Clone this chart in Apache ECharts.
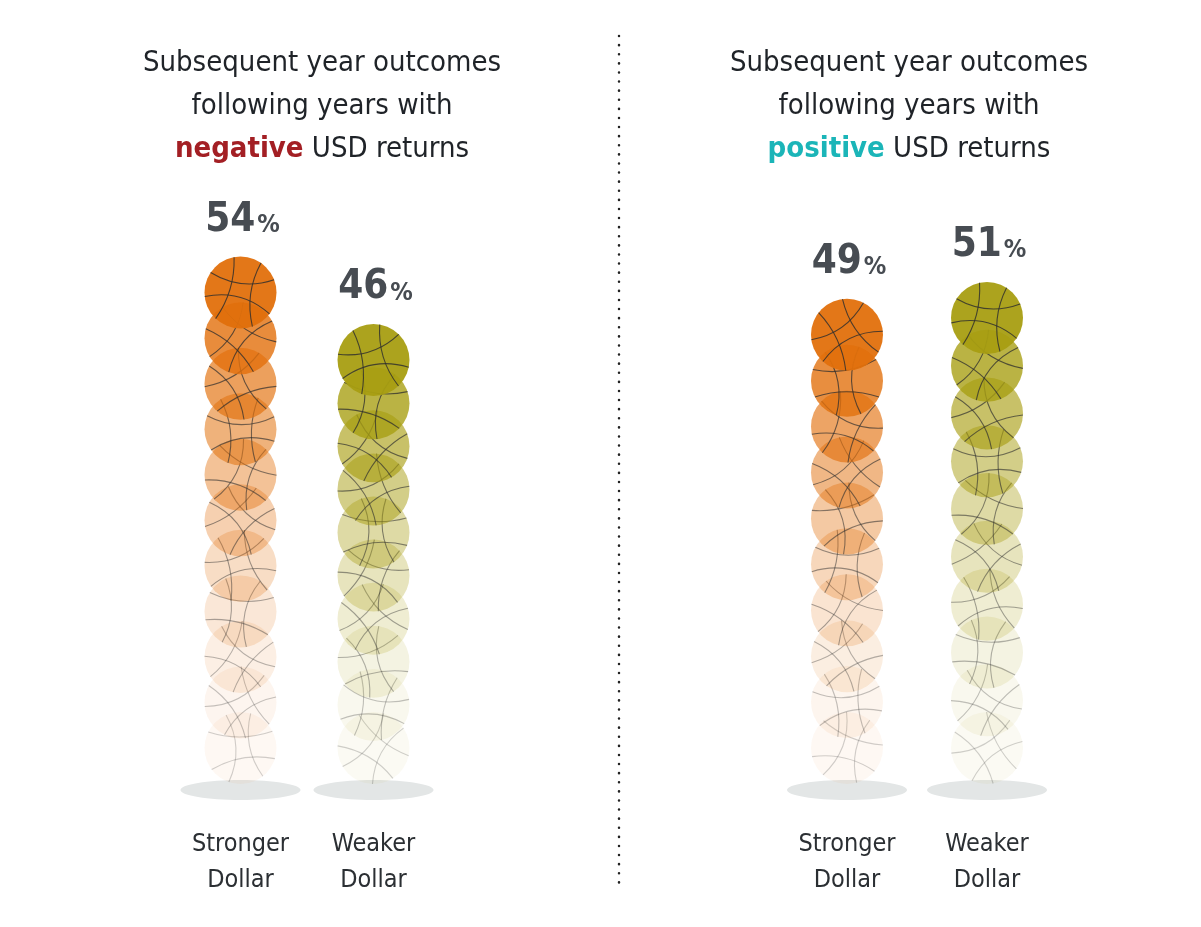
<!DOCTYPE html>
<html><head><meta charset="utf-8">
<script src="https://cdn.jsdelivr.net/npm/echarts@6/dist/echarts.min.js"></script>
<style>html,body{margin:0;background:#fff}#c{width:1201px;height:927px}</style>
</head><body><div id="c"></div>
<script>
const categories = ['Stronger\nDollar', 'Weaker\nDollar'];
const negativeValues = [54, 46];
const positiveValues = [49, 51];
const ballColors = ['#E2700C', '#A89E12'];
const FONT = '"Liberation Sans Narrow","DejaVu Sans Condensed","Noto Sans",sans-serif';

const chart = echarts.init(document.getElementById('c'));
const curves = [[0.3, 2.5, 0.25], [1.9, 4.3, -0.3], [3.6, 5.8, 0.35], [5.0, 0.9, 0.1]];

function renderItem(params, api) {
  const ci = api.value(0), v = api.value(1);
  const base = api.coord([ci, 0]), top = api.coord([ci, v]);
  const r = 36;
  const n = Math.round(v / 5.4) + 1;
  const step = (base[1] - top[1]) / (n - 1);
  const color = ballColors[ci];
  const children = [{
    type: 'ellipse', shape: {cx: base[0], cy: base[1] + 42, rx: 60, ry: 10},
    style: {fill: '#e3e6e6'}
  }];
  for (let i = 0; i < n; i++) {
    const cx = base[0], cy = base[1] - i * step;
    const t = i / (n - 1);
    const op = 0.05 + 0.9 * Math.pow(t, 1.7);
    children.push({type: 'circle', shape: {cx, cy, r}, style: {fill: color, opacity: op}});
    const rot = i * 1.13 + ci * 0.7 + params.seriesIndex * 0.4;
    curves.forEach(c => {
      const a1 = c[0] + rot, a2 = c[1] + rot;
      const x1 = cx + r * Math.cos(a1), y1 = cy + r * Math.sin(a1);
      const x2 = cx + r * Math.cos(a2), y2 = cy + r * Math.sin(a2);
      const mx = (x1 + x2) / 2 - cx, my = (y1 + y2) / 2 - cy;
      children.push({
        type: 'bezierCurve',
        shape: {x1, y1, x2, y2, cpx1: cx + mx * c[2], cpy1: cy + my * c[2]},
        style: {stroke: '#2e2e2e', lineWidth: 1.1, fill: null, opacity: 0.22 + 0.6 * t}
      });
    });
  }
  children.push({
    type: 'text',
    style: {
      text: '{a|' + v + '}{b|%}', x: top[0] + 2, y: top[1] - r - 16,
      align: 'center', verticalAlign: 'bottom',
      rich: {
        a: {fontSize: 40, fontWeight: 'bold', fill: '#474c52', fontFamily: FONT},
        b: {fontSize: 25, fontWeight: 'bold', fill: '#474c52', fontFamily: FONT, padding: [10, 0, 0, 2]}
      }
    }
  });
  return {type: 'group', children};
}

const xAx = (gi) => ({
  gridIndex: gi, type: 'category', data: categories,
  axisLine: {show: false}, axisTick: {show: false},
  axisLabel: {interval: 0, margin: 78, fontSize: 25, lineHeight: 36, color: '#2b2f33', fontFamily: FONT}
});
const yAx = (gi) => ({gridIndex: gi, type: 'value', min: 0, max: 60, show: false});

chart.setOption({
  animation: false,
  grid: [
    {left: 174, width: 266, top: 242, height: 506},
    {left: 777, width: 280, top: 242, height: 506}
  ],
  xAxis: [xAx(0), xAx(1)],
  yAxis: [yAx(0), yAx(1)],
  series: [
    {type: 'custom', xAxisIndex: 0, yAxisIndex: 0, renderItem, data: negativeValues.map((v, i) => [i, v])},
    {type: 'custom', xAxisIndex: 1, yAxisIndex: 1, renderItem, data: positiveValues.map((v, i) => [i, v])}
  ],
  graphic: [
    {type: 'text', x: 322, y: 42, style: {
      text: 'Subsequent year outcomes\nfollowing years with\n{w|negative} USD returns',
      align: 'center', fontSize: 29, lineHeight: 43, fill: '#1f2328', fontFamily: FONT,
      rich: {w: {fontSize: 29, fontWeight: 'bold', fill: '#a31f24', fontFamily: FONT}}}},
    {type: 'text', x: 909, y: 42, style: {
      text: 'Subsequent year outcomes\nfollowing years with\n{w|positive} USD returns',
      align: 'center', fontSize: 29, lineHeight: 43, fill: '#1f2328', fontFamily: FONT,
      rich: {w: {fontSize: 29, fontWeight: 'bold', fill: '#1bb5b8', fontFamily: FONT}}}},
    {type: 'line', shape: {x1: 619, y1: 36, x2: 619, y2: 890},
      style: {stroke: '#222', lineWidth: 2.5, lineDash: [0.1, 9], lineCap: 'round'}}
  ]
});
</script></body></html>
